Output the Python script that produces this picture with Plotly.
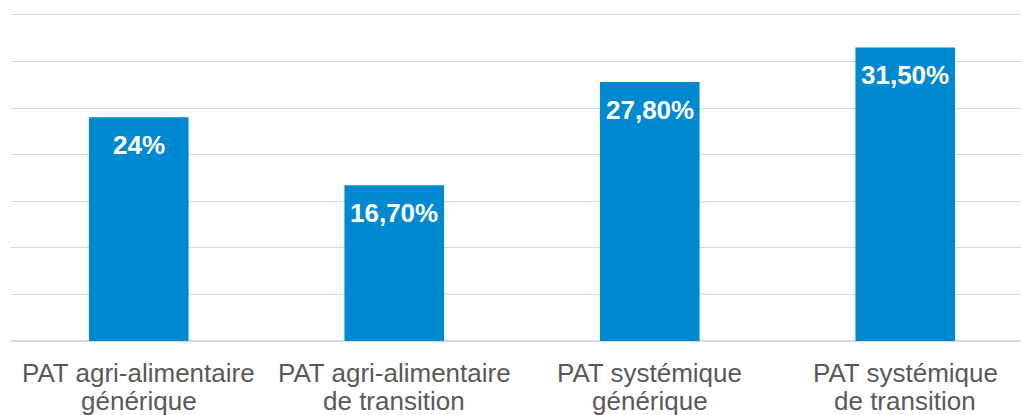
import plotly.graph_objects as go

# Share of PAT projects by type (%)
line1 = ["PAT agri-alimentaire", "PAT agri-alimentaire", "PAT systémique", "PAT systémique"]
line2 = ["générique", "de transition", "générique", "de transition"]
values = [24.0, 16.7, 27.8, 31.5]
value_labels = ["24%", "16,70%", "27,80%", "31,50%"]

cats = list(range(len(values)))
BLUE = "#0088D1"
GRID = "#D9D9D9"
FONT = "Liberation Sans, Arial, sans-serif"

fig = go.Figure(
    go.Bar(
        x=cats,
        y=values,
        width=0.39,
        marker=dict(color=BLUE, line=dict(width=0)),
        hoverinfo="skip",
    )
)

for i in cats:
    # Value label just inside the top of each bar
    fig.add_annotation(
        x=i, y=values[i], xref="x", yref="y", yanchor="top",
        text=value_labels[i], showarrow=False, yshift=-11,
        font=dict(family=FONT, size=26, color="white", weight="bold"),
    )
    # Two-line category labels under each bar
    fig.add_annotation(
        x=i, y=0, xref="x", yref="paper", yanchor="top",
        text=line1[i], showarrow=False, yshift=-15,
        font=dict(family=FONT, size=26, color="#595959"),
    )
    fig.add_annotation(
        x=i, y=0, xref="x", yref="paper", yanchor="top",
        text=line2[i], showarrow=False, yshift=-43,
        font=dict(family=FONT, size=26, color="#595959"),
    )

fig.update_layout(
    width=1021,
    height=415,
    margin=dict(l=11, r=0, t=12, b=74),
    paper_bgcolor="white",
    plot_bgcolor="white",
    showlegend=False,
    xaxis=dict(
        range=[-0.5, 3.5 - 12 / 255.5],
        showticklabels=False,
        showgrid=False,
        zeroline=False,
        showline=False,
        fixedrange=True,
    ),
    yaxis=dict(
        range=[0, 35.3],
        tickvals=[5, 10, 15, 20, 25, 30, 35],
        showticklabels=False,
        showgrid=True,
        gridcolor=GRID,
        gridwidth=1,
        zeroline=True,
        zerolinecolor=GRID,
        zerolinewidth=2,
        showline=False,
        fixedrange=True,
    ),
)

fig.write_html("out.html")
